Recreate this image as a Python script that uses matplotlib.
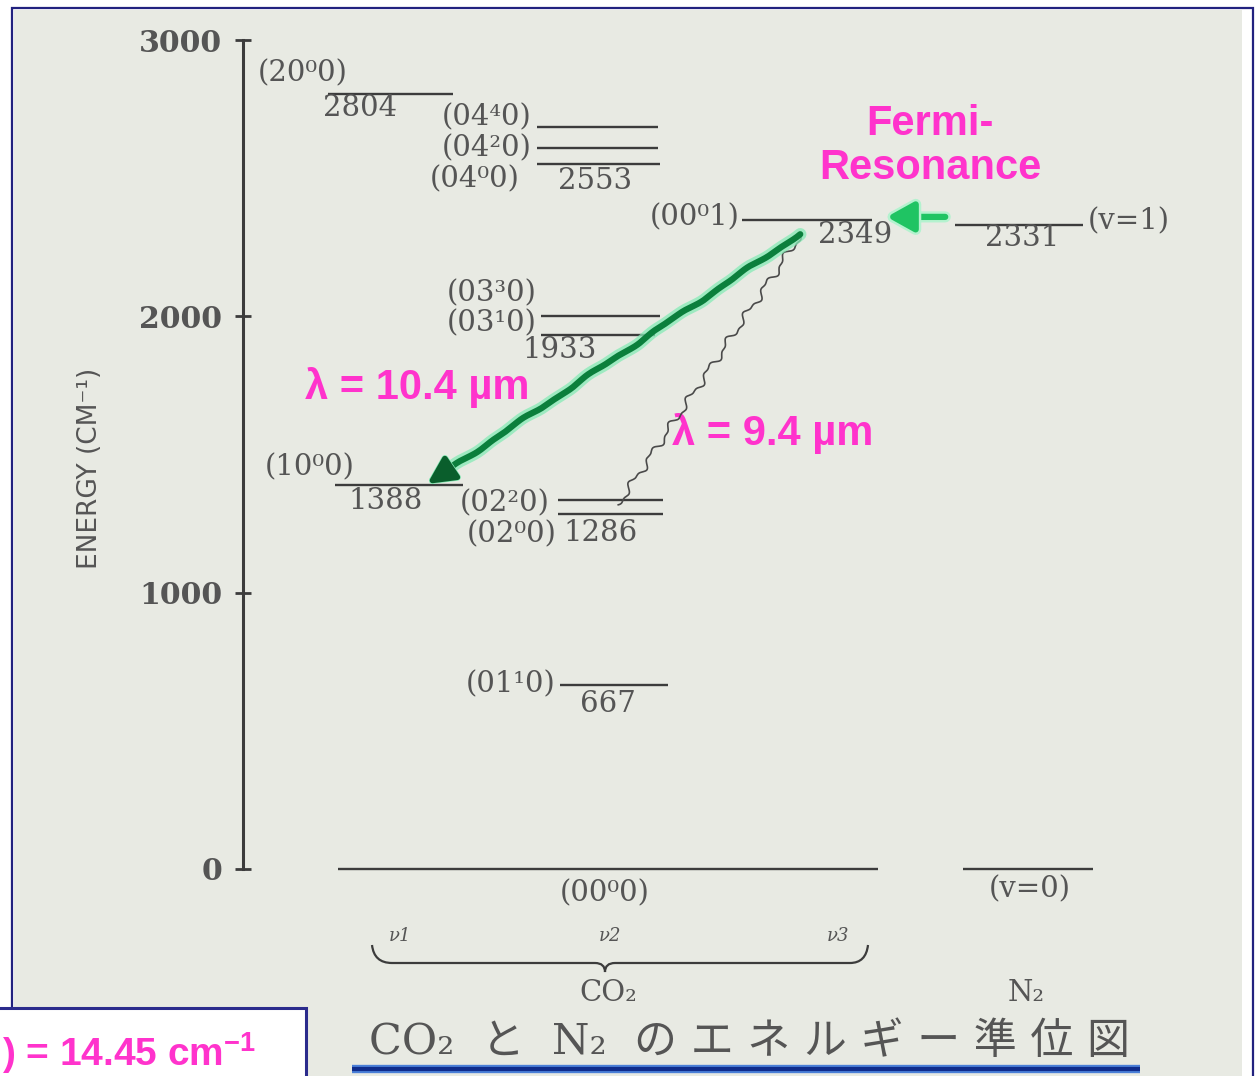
import matplotlib
matplotlib.use('Agg')
import matplotlib.pyplot as plt
import matplotlib.patheffects as pe
from matplotlib.patches import Rectangle, PathPatch
from matplotlib.path import Path
import numpy as np


# CO2 LEVELS (cm-1)
co2Names = ['(20⁰0)', '(04⁴0)', '(04²0)', '(04⁰0)', '(00⁰1)', '(03³0)',
            '(03¹0)', '(10⁰0)', '(02²0)', '(02⁰0)', '(01¹0)', '(00⁰0)']
co2Energy = [2804, 2686, 2609, 2553, 2349, 2001, 1933, 1388, 1335, 1286, 667, 0]
co2Labelled = [True, False, False, True, True, False, True, True, False, True, True, False]

# N2 LEVELS (cm-1)
n2Names = ['(v=1)', '(v=0)']
n2Energy = [2331, 0]
n2Labelled = [True, False]

energyTicks = [0, 1000, 2000, 3000]

# TRANSITIONS (upper level, lower level)
laser104 = (2349, 1388)
laser94 = (2349, 1286)
fermi = (2331, 2349)

# LAYOUT: line x0, x1, name x, name dy, name align, value x, value dy  (pixels)
co2Layout = [
    (328, 453, 258, -21, 'left', 323, 14),
    (537, 658, 532, -9, 'right', 0, 0),
    (537, 658, 532, 0, 'right', 0, 0),
    (537, 660, 520, 16, 'right', 558, 17),
    (742, 872, 740, -3, 'right', 818, 15),
    (541, 660, 537, -23, 'right', 0, 0),
    (541, 655, 537, -12, 'right', 522, 15),
    (335, 463, 265, -18, 'left', 348, 16),
    (558, 663, 550, 3, 'right', 0, 0),
    (558, 663, 557, 21, 'right', 563, 19),
    (560, 668, 555, 0, 'right', 580, 19),
    (338, 878, 605, 24, 'center', 0, 0),
]
n2Layout = [
    (955, 1083, 1088, -4, 'left', 985, 13),
    (963, 1093, 1030, 20, 'center', 0, 0),
]

ink = '#3c3c3c'
grey = '#555555'
pink = '#ff33cc'
green = '#0b7f3c'
halo = '#86eab6'
scanFont = dict(family='DejaVu Serif', size=21, color=grey)
pinkFont = dict(family='Liberation Sans', weight='bold', size=30, color=pink)
plt.rcParams['mathtext.default'] = 'regular'

# PAGE AND BACKGROUND
fig = plt.figure(figsize=(12.59, 10.76), dpi=100)
bg = fig.add_axes([0, 0, 1, 1])
bg.set_xlim(0, 1259)
bg.set_ylim(1076, 0)
bg.axis('off')
bg.add_patch(Rectangle((12, 8), 1241, 1090, fc='white', ec='#22227f', lw=1.6))
bg.add_patch(Rectangle((14, 10), 1228, 1080, fc='#e8eae3', ec='none'))

# ENERGY AXIS
ax = fig.add_axes([243 / 1259, 207 / 1076, 999 / 1259, 829 / 1076])
ax.patch.set_alpha(0)
ax.set_xlim(243, 1242)
ax.set_ylim(0, 3000)
for side in ['top', 'right', 'bottom']:
    ax.spines[side].set_visible(False)
ax.spines['left'].set_linewidth(2.2)
ax.spines['left'].set_color(ink)
ax.set_xticks([])
ax.set_yticks(energyTicks)
ax.tick_params(axis='y', direction='inout', length=12, width=2, pad=9,
               labelsize=21.5, labelcolor=grey, color=ink)
for lab in ax.get_yticklabels():
    lab.set_fontfamily('DejaVu Serif')
    lab.set_fontweight('bold')

bg.text(90, 468, 'ENERGY (CM⁻¹)', rotation=90, ha='center', va='center',
        family='DejaVu Sans', size=19, color=grey)


def drawLevels(names, energies, labelled, layout):
    for name, e, show, (x0, x1, nx, ndy, nha, vx, vdy) in zip(names, energies, labelled, layout):
        ax.hlines(e, x0, x1, color=ink, lw=1.7, clip_on=False)
        ax.annotate(name, xy=(nx, e), xytext=(0, -ndy), textcoords='offset pixels',
                    ha=nha, va='center', annotation_clip=False, **scanFont)
        if show:
            ax.annotate(str(e), xy=(vx, e), xytext=(0, -vdy), textcoords='offset pixels',
                        ha='left', va='center', annotation_clip=False,
                        family='DejaVu Serif', size=21, color=grey)


drawLevels(co2Names, co2Energy, co2Labelled, co2Layout)
drawLevels(n2Names, n2Energy, n2Labelled, n2Layout)


# TRANSITION ARROWS
def pix(x, e, dy=0):
    p = ax.transData.transform((x, e))
    return p + np.array([0, -dy])


def wavy(d0, d1, amp, wave, n=400):
    vec = d1 - d0
    L = np.hypot(*vec)
    u = vec / L
    nrm = np.array([-u[1], u[0]])
    t = np.linspace(0, 1, n)
    s = t * L
    off = amp * np.sin(2 * np.pi * s / wave) + 0.5 * amp * np.sin(2 * np.pi * s / (wave * 0.43) + 1.0)
    pts = d0 + np.outer(t, vec) + np.outer(off, nrm)
    return ax.transData.inverted().transform(pts)


# 9.4 um line
a = pix(800, laser94[0], 16)
b = pix(618, laser94[1], -9)
w = wavy(a, b, 3.0, 34)
ax.plot(w[:, 0], w[:, 1], color='#4a4a4a', lw=1.2, clip_on=False)

# 10.4 um arrow
a = pix(800, laser104[0], 14)
b = pix(425, laser104[1])
u = (b - a) / np.hypot(*(b - a))
w = wavy(a, b - 20 * u, 1.0, 90)
ax.plot(w[:, 0], w[:, 1], color=halo, lw=9, alpha=0.75, solid_capstyle='round', clip_on=False)
ax.plot(w[:, 0], w[:, 1], color=green, lw=4.5, solid_capstyle='round', clip_on=False)
arr = ax.annotate('', xy=tuple(b), xytext=tuple(b - 34 * u), xycoords='figure pixels',
                  arrowprops=dict(arrowstyle='-|>,head_length=0.9,head_width=0.45',
                                  color='#0a5e2c', lw=4, mutation_scale=18))
arr.arrow_patch.set_path_effects([pe.Stroke(linewidth=5, foreground=halo), pe.Normal()])

# Fermi resonance transfer N2 -> CO2
a = pix(948, fermi[1], -3)
b = pix(884, fermi[1], -3)
arr = ax.annotate('', xy=tuple(b), xytext=tuple(a), xycoords='figure pixels',
                  arrowprops=dict(arrowstyle='-|>,head_length=0.9,head_width=0.5',
                                  color='#1fc463', lw=4.5, mutation_scale=18))
arr.arrow_patch.set_path_effects([pe.Stroke(linewidth=8, foreground='#b4f2cf'), pe.Normal()])

# ANNOTATIONS
bg.text(930, 146, 'Fermi-\nResonance', ha='center', va='center', linespacing=1.15, **pinkFont)
bg.text(305, 388, 'λ = 10.4 µm', ha='left', va='center', **pinkFont)
bg.text(672, 433, 'λ = 9.4 µm', ha='left', va='center', **pinkFont)

# MODE BRACE AND MOLECULE NAMES
for xm, mode in zip([400, 610, 838], ['ν1', 'ν2', 'ν3']):
    bg.text(xm, 936, mode, ha='center', va='center', family='DejaVu Serif',
            style='italic', size=13, color=grey)
brace = Path([(372, 945), (374, 963), (392, 963), (595, 963), (605, 963), (605, 972),
              (605, 963), (615, 963), (850, 963), (866, 963), (868, 945)],
             [Path.MOVETO, Path.CURVE3, Path.CURVE3, Path.LINETO, Path.CURVE3, Path.CURVE3,
              Path.CURVE3, Path.CURVE3, Path.LINETO, Path.CURVE3, Path.CURVE3])
bg.add_patch(PathPatch(brace, fc='none', ec=ink, lw=1.6))
bg.text(608, 993, 'CO₂', ha='center', va='center', family='DejaVu Serif', size=21, color=grey)
bg.text(1026, 993, 'N₂', ha='center', va='center', family='DejaVu Serif', size=21, color=grey)

# CAPTION
bg.text(750, 1042, 'CO₂  と  N₂  の エ ネ ル ギ ー 準 位 図', ha='center', va='center',
        family=['DejaVu Serif', 'Noto Sans CJK JP'], size=31, color=grey)
bg.plot([352, 1140], [1069, 1069], color='#4a7fd8', lw=6, solid_capstyle='butt')
bg.plot([352, 1140], [1069, 1069], color='#0f2c8c', lw=3, solid_capstyle='butt')

# LINEWIDTH BOX
bg.add_patch(Rectangle((-10, 1008), 316, 90, fc='white', ec='#2b2b8c', lw=2.2))
bg.text(2, 1066, ') = 14.45 cm$^{-1}$', ha='left', va='baseline',
        **dict(pinkFont, size=28))

# SAVING PNG
fig.savefig('out.png', dpi=100)
